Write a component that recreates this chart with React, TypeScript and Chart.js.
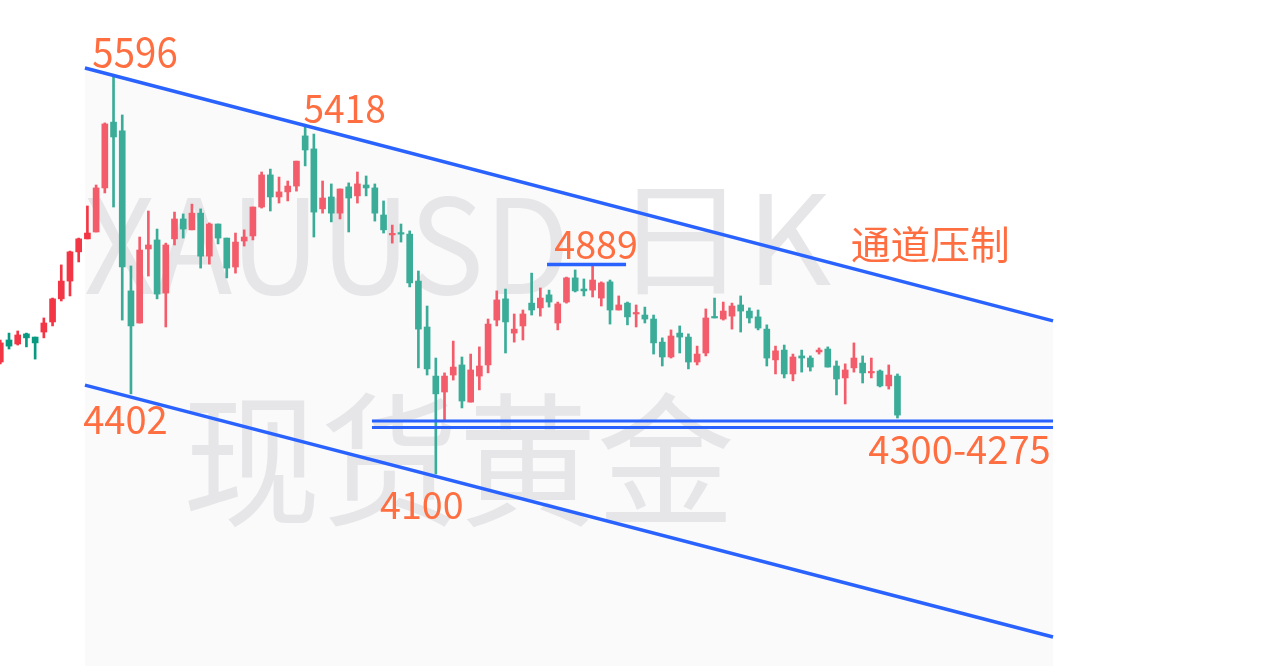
import { useEffect, useRef } from 'react';
import { Chart, registerables } from 'chart.js';

Chart.register(...registerables);

// ---- candle data (daily XAUUSD) ----
const opens = [
  4522, 4605, 4590, 4628, 4616, 4635, 4673, 4760, 4827, 4937,
  4986, 5012, 5178, 5426, 5393, 4790, 4669, 4948, 4982, 4782,
  4986, 5061, 5020, 5083, 4921, 5042, 4989, 4880, 4978, 4997,
  5106, 5227, 5144, 5163, 5185, 5374, 5325, 5099, 5144, 5083,
  5182, 5148, 5189, 5178, 5076, 5001, 5008, 5004, 4827, 4654,
  4469, 4409, 4473, 4511, 4371, 4469, 4511, 4680, 4760, 4631,
  4658, 4744, 4726, 4775, 4669, 4748, 4839, 4797, 4793, 4763,
  4824, 4718, 4744, 4703, 4699, 4684, 4597, 4541, 4631, 4616,
  4522, 4556, 4692, 4684, 4695, 4737, 4714, 4692, 4646, 4530,
  4567, 4477, 4545, 4537, 4560, 4571, 4507, 4462, 4500, 4518,
  4481, 4488, 4432, 4469,
];
const highs = [
  4605, 4631, 4639, 4631, 4616, 4688, 4763, 4888, 4940, 4989,
  5110, 5189, 5423, 5596, 5453, 4884, 4993, 5091, 5023, 4970,
  5087, 5080, 5117, 5099, 5046, 5042, 4989, 5008, 5020, 5106,
  5238, 5249, 5219, 5204, 5279, 5418, 5381, 5204, 5193, 5174,
  5197, 5238, 5223, 5193, 5129, 5038, 5042, 5016, 4865, 4733,
  4537, 4481, 4601, 4541, 4552, 4579, 4684, 4790, 4797, 4703,
  4718, 4857, 4801, 4793, 4748, 4842, 4869, 4835, 4884, 4824,
  4831, 4771, 4748, 4737, 4729, 4699, 4613, 4643, 4658, 4628,
  4582, 4722, 4763, 4748, 4744, 4771, 4726, 4718, 4662, 4582,
  4586, 4552, 4567, 4545, 4575, 4579, 4526, 4515, 4594, 4545,
  4537, 4492, 4511, 4477,
];
const lows = [
  4515, 4571, 4586, 4579, 4533, 4613, 4658, 4752, 4771, 4899,
  4986, 5012, 5159, 5106, 4680, 4402, 4669, 4846, 4760, 4654,
  4963, 4989, 5020, 4876, 4891, 4967, 4839, 4857, 4959, 4982,
  5102, 5091, 5121, 5129, 5166, 5261, 4993, 5083, 5050, 5061,
  5012, 5121, 5148, 5053, 5008, 4970, 4974, 4805, 4500, 4473,
  4100, 4304, 4454, 4349, 4371, 4417, 4481, 4658, 4556, 4597,
  4605, 4699, 4695, 4729, 4643, 4744, 4786, 4771, 4767, 4733,
  4665, 4718, 4662, 4654, 4669, 4552, 4507, 4537, 4556, 4496,
  4511, 4545, 4688, 4680, 4646, 4635, 4669, 4643, 4507, 4477,
  4462, 4451, 4484, 4488, 4552, 4503, 4398, 4364, 4484, 4443,
  4462, 4428, 4420, 4311,
];
const closes = [
  4594, 4582, 4624, 4613, 4594, 4669, 4760, 4827, 4937, 4986,
  5008, 5178, 5419, 5370, 4880, 4658, 4944, 4963, 4778, 4963,
  5061, 5023, 5083, 4921, 5042, 4989, 4876, 4974, 4993, 5106,
  5227, 5144, 5163, 5185, 5279, 5321, 5087, 5140, 5083, 5174,
  5140, 5193, 5178, 5083, 5020, 5004, 5004, 4820, 4646, 4496,
  4402, 4469, 4503, 4375, 4492, 4507, 4665, 4756, 4673, 4646,
  4703, 4718, 4763, 4748, 4741, 4839, 4790, 4790, 4831, 4820,
  4718, 4737, 4692, 4707, 4684, 4594, 4541, 4620, 4616, 4522,
  4552, 4688, 4688, 4714, 4733, 4714, 4688, 4650, 4537, 4564,
  4477, 4541, 4537, 4503, 4567, 4503, 4458, 4492, 4537, 4481,
  4484, 4432, 4473, 4322,
];

// ---- drawn levels ----
const upperChannelX = [9.72, 120.86];
const upperChannelY = [5630, 4677];
const lowerChannelX = [9.72, 120.86];
const lowerChannelY = [4435, 3486];
const supportLevels = [4300, 4275];
const supportX = [42.67, 120.86];
const resistLevel = 4889;
const resistX = [62.77, 71.84];

// ---- texts ----
const peakLabels = ['5596', '5418', '4402', '4100'];
const peakIndex = [13, 35, 15, 50];
const peakPrice = [5596, 5418, 4402, 4100];
const resistLabel = '4889';
const supportLabel = '4300-4275';
const channelLabel = '通道压制';
const watermarkTop = ['XAUUSD', '日K'];
const watermarkBottom = '现货黄金';

const RED = '#f23645';
const TEAL = '#089981';
const RED_L = '#f35c6a';
const TEAL_L = '#3aac98';
const BLUE = '#2962ff';
const ORANGE = '#ff6e40';
const WM = '#e6e6e9';
const FONT = '"Noto Sans CJK SC", "Noto Sans", sans-serif';

function drawFit(ctx: CanvasRenderingContext2D, text: string, x0: number, y0: number, x1: number, y1: number, color: string) {
  ctx.save();
  ctx.font = `100px ${FONT}`;
  ctx.textAlign = 'left';
  ctx.textBaseline = 'alphabetic';
  const m = ctx.measureText(text);
  const w = m.actualBoundingBoxLeft + m.actualBoundingBoxRight;
  const h = m.actualBoundingBoxAscent + m.actualBoundingBoxDescent;
  ctx.translate(x0, y0);
  ctx.scale((x1 - x0) / w, (y1 - y0) / h);
  ctx.fillStyle = color;
  ctx.fillText(text, m.actualBoundingBoxLeft, m.actualBoundingBoxAscent);
  ctx.restore();
}

const decorPlugin = {
  id: 'decor',
  beforeDatasetsDraw(chart: any) {
    const { ctx, width, height } = chart;
    const xs = chart.scales.x;
    const ys = chart.scales.y;
    ctx.save();
    ctx.fillStyle = '#ffffff';
    ctx.fillRect(0, 0, width, height);
    const ax = xs.getPixelForValue(upperChannelX[0]);
    const ay = ys.getPixelForValue(upperChannelY[0]);
    const bx = xs.getPixelForValue(upperChannelX[1]);
    const by = ys.getPixelForValue(upperChannelY[1]);
    ctx.fillStyle = '#fafafa';
    ctx.beginPath();
    ctx.moveTo(ax, ay);
    ctx.lineTo(bx, by);
    ctx.lineTo(bx, height);
    ctx.lineTo(ax, height);
    ctx.closePath();
    ctx.fill();
    ctx.restore();
    drawFit(ctx, watermarkTop[0], 85, 195, 563, 295, WM);
    drawFit(ctx, watermarkTop[1], 637, 188, 832, 295, WM);
    drawFit(ctx, watermarkBottom, 188, 391, 732, 528, WM);
  },
  afterDatasetsDraw(chart: any) {
    const { ctx } = chart;
    const xs = chart.scales.x;
    const ys = chart.scales.y;
    const boxes = [
      [-20.5, -40, 62.5, -10],
      [-1, -30, 79, -1],
      [-47, 12, 35, 41],
      [-55, 17, 26, 45],
    ];
    peakLabels.forEach((t, k) => {
      const px = xs.getPixelForValue(peakIndex[k]);
      const py = ys.getPixelForValue(peakPrice[k]);
      const b = boxes[k];
      drawFit(ctx, t, px + b[0], py + b[1], px + b[2], py + b[3], ORANGE);
    });
    {
      const px = xs.getPixelForValue(resistX[0]);
      const py = ys.getPixelForValue(resistLevel);
      drawFit(ctx, resistLabel, px + 8, py - 34.6, px + 89, py - 5.6, ORANGE);
    }
    {
      const px = xs.getPixelForValue(supportX[1]);
      const py = ys.getPixelForValue(supportLevels[1]);
      drawFit(ctx, supportLabel, px - 184, py + 7.4, px - 4, py + 36.4, ORANGE);
    }
    {
      const px = xs.getPixelForValue(upperChannelX[1]);
      const py = ys.getPixelForValue(upperChannelY[1]);
      drawFit(ctx, channelLabel, px - 201, py - 94, px - 46, py - 58, ORANGE);
    }
  },
};

export default function App() {
  const ref = useRef<HTMLCanvasElement | null>(null);
  useEffect(() => {
    document.body.style.margin = '0';
    const idx = opens.map((_, i) => i);
    const isUp = idx.map((i) => closes[i] >= opens[i]);
    const colors = idx.map((i) => (i <= 10 ? (isUp[i] ? RED : TEAL) : isUp[i] ? RED_L : TEAL_L));
    const lineDs = (xsArr: number[], ysArr: number[], w: number) => ({
      type: 'line' as const,
      data: xsArr.map((x, k) => ({ x, y: ysArr[k] })),
      borderColor: BLUE,
      borderWidth: w,
      pointRadius: 0,
      fill: false,
      tension: 0,
      order: 0,
    });
    const chart = new Chart(ref.current as HTMLCanvasElement, {
      type: 'bar',
      data: {
        datasets: [
          lineDs(upperChannelX, upperChannelY, 3.5),
          lineDs(lowerChannelX, lowerChannelY, 3.5),
          lineDs(supportX, [supportLevels[0], supportLevels[0]], 3),
          lineDs(supportX, [supportLevels[1], supportLevels[1]], 3),
          lineDs(resistX, [resistLevel, resistLevel], 3.5),
          {
            type: 'bar' as const,
            data: idx.map((i) => ({ x: i, y: [Math.min(opens[i], closes[i]), Math.max(opens[i], closes[i])] })),
            backgroundColor: colors,
            barThickness: 6,
            minBarLength: 1.5,
            grouped: false,
            order: 1,
          },
          {
            type: 'bar' as const,
            data: idx.map((i) => ({ x: i, y: [lows[i], highs[i]] })),
            backgroundColor: colors,
            barThickness: 2,
            grouped: false,
            order: 2,
          },
        ] as any,
      },
      options: {
        responsive: false,
        animation: false,
        devicePixelRatio: 1,
        events: [],
        layout: { padding: 0 },
        plugins: { legend: { display: false }, tooltip: { enabled: false }, title: { display: false } },
        scales: {
          x: { type: 'linear', min: -0.0344, max: 145.77, display: false, offset: false },
          y: { type: 'linear', min: 3376.6, max: 5886.1, display: false },
        },
      } as any,
      plugins: [decorPlugin],
    });
    return () => chart.destroy();
  }, []);
  return (
    <div style={{ position: 'fixed', left: 0, top: 0, width: 1270, height: 666 }}>
      <canvas ref={ref} width={1270} height={666} style={{ display: 'block' }} />
    </div>
  );
}
